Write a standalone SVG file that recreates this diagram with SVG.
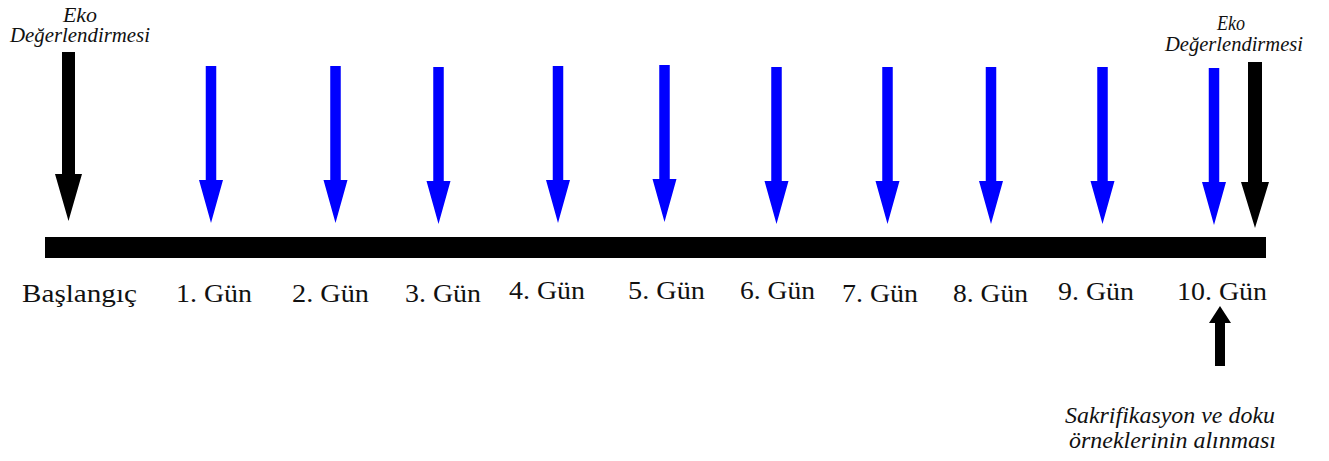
<svg xmlns="http://www.w3.org/2000/svg" xmlns:xlink="http://www.w3.org/1999/xlink" width="1329" height="461" viewBox="0 0 1329 461">
  <style>
    .day { font-family: "Liberation Serif", serif; font-size: 25px; fill: #111; }
    .note { font-family: "Liberation Serif", serif; font-style: italic; fill: #111; }
    .blue { fill: #0000ff; }
    .black { fill: #000; }
  </style>
  <defs>
    <path id="blueArrow" d="M -5.25 66 H 5.25 V 180 H 12 L 0 223 L -12 180 H -5.25 Z"/>
  </defs>
  <rect width="1329" height="461" fill="#fff"/>

  <g id="timeline">
    <rect x="45" y="237" width="1221" height="21" class="black"/>
  </g>

  <g id="connectors">
    <path class="black" d="M 62 52 H 75 V 174 H 82 L 68.5 221 L 55 174 H 62 Z"/>
    <use xlink:href="#blueArrow" href="#blueArrow" x="211" class="blue"/>
    <use xlink:href="#blueArrow" href="#blueArrow" x="335.5" class="blue"/>
    <use xlink:href="#blueArrow" href="#blueArrow" x="438.5" y="1" class="blue"/>
    <use xlink:href="#blueArrow" href="#blueArrow" x="558" class="blue"/>
    <use xlink:href="#blueArrow" href="#blueArrow" x="664.5" y="-1" class="blue"/>
    <use xlink:href="#blueArrow" href="#blueArrow" x="776.5" y="1" class="blue"/>
    <use xlink:href="#blueArrow" href="#blueArrow" x="887.5" y="1" class="blue"/>
    <use xlink:href="#blueArrow" href="#blueArrow" x="991" y="1" class="blue"/>
    <use xlink:href="#blueArrow" href="#blueArrow" x="1102.5" y="1" class="blue"/>
    <use xlink:href="#blueArrow" href="#blueArrow" x="1214" y="2" class="blue"/>
    <path class="black" d="M 1248 62 H 1262 V 182 H 1269 L 1255 228 L 1241 182 H 1248 Z"/>
    <path class="black" d="M 1215 366 V 323 H 1209 L 1220 306 L 1231 323 H 1225 V 366 Z"/>
  </g>

  <g id="eko-start">
    <text class="note" x="80" y="22" font-size="20" text-anchor="middle" textLength="34" lengthAdjust="spacingAndGlyphs">Eko</text>
    <text class="note" x="10" y="42" font-size="20" textLength="140" lengthAdjust="spacingAndGlyphs">Değerlendirmesi</text>
  </g>
  <g id="eko-end">
    <text class="note" x="1231" y="30" font-size="20" text-anchor="middle" textLength="28" lengthAdjust="spacingAndGlyphs">Eko</text>
    <text class="note" x="1165" y="51" font-size="20" textLength="138" lengthAdjust="spacingAndGlyphs">Değerlendirmesi</text>
  </g>

  <g id="label-start"><text class="day" x="22" y="302" textLength="115" lengthAdjust="spacingAndGlyphs">Başlangıç</text></g>
  <g id="label-day1"><text class="day" x="176" y="302" textLength="76" lengthAdjust="spacingAndGlyphs">1. Gün</text></g>
  <g id="label-day2"><text class="day" x="292" y="302" textLength="77" lengthAdjust="spacingAndGlyphs">2. Gün</text></g>
  <g id="label-day3"><text class="day" x="405" y="302" textLength="76" lengthAdjust="spacingAndGlyphs">3. Gün</text></g>
  <g id="label-day4"><text class="day" x="509" y="299" textLength="76" lengthAdjust="spacingAndGlyphs">4. Gün</text></g>
  <g id="label-day5"><text class="day" x="628" y="299" textLength="77" lengthAdjust="spacingAndGlyphs">5. Gün</text></g>
  <g id="label-day6"><text class="day" x="740" y="299" textLength="75" lengthAdjust="spacingAndGlyphs">6. Gün</text></g>
  <g id="label-day7"><text class="day" x="842" y="302" textLength="76" lengthAdjust="spacingAndGlyphs">7. Gün</text></g>
  <g id="label-day8"><text class="day" x="953" y="302" textLength="75" lengthAdjust="spacingAndGlyphs">8. Gün</text></g>
  <g id="label-day9"><text class="day" x="1058" y="300" textLength="76" lengthAdjust="spacingAndGlyphs">9. Gün</text></g>
  <g id="label-day10"><text class="day" x="1177" y="300" textLength="90" lengthAdjust="spacingAndGlyphs">10. Gün</text></g>

  <g id="sacrifice-note">
    <text class="note" x="1065" y="423" font-size="23" textLength="210" lengthAdjust="spacingAndGlyphs">Sakrifikasyon ve doku</text>
    <text class="note" x="1069" y="448" font-size="23" textLength="207" lengthAdjust="spacingAndGlyphs">örneklerinin alınması</text>
  </g>
</svg>
